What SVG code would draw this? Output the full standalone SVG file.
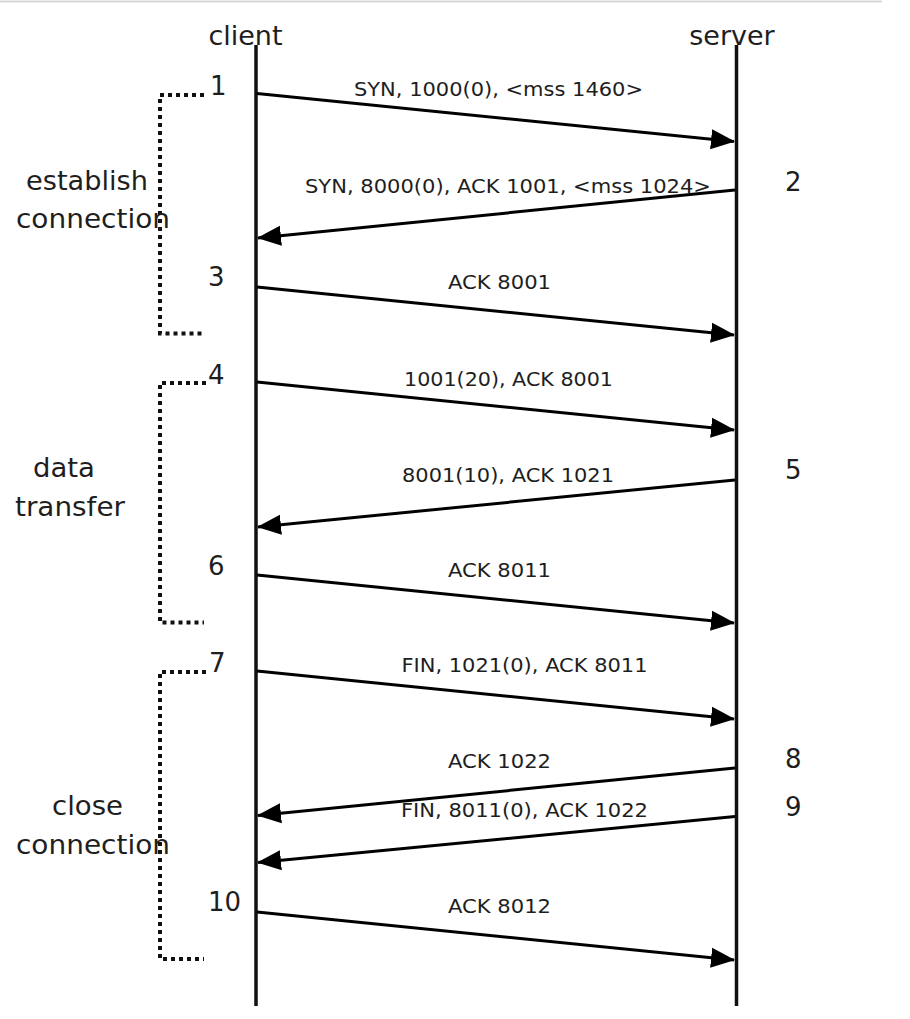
<svg xmlns="http://www.w3.org/2000/svg" width="910" height="1019" viewBox="0 0 910 1019">
<style>
text{font-family:"DejaVu Sans","Liberation Sans",sans-serif;fill:#1e1e1e}
.actor{font-size:27px;text-anchor:middle}
.grp{font-size:27px;text-anchor:middle}
.num{font-size:26px}
.lbl{font-size:20px;text-anchor:middle}
.life{stroke:#111;stroke-width:3.5;fill:none}
.msg{stroke:#000;stroke-width:3;fill:none;marker-end:url(#ah)}
.br{stroke:#111;stroke-width:4;stroke-dasharray:4 4;fill:none}
</style>
<defs>
<marker id="ah" markerUnits="userSpaceOnUse" markerWidth="24" markerHeight="22" refX="23" refY="10" orient="auto" viewBox="0 0 24 20">
<path d="M0,0 L24,10 L0,20 z" fill="#000"/>
</marker>
</defs>
<rect width="910" height="1019" fill="#fff"/>
<line x1="0" y1="1.5" x2="882" y2="1.5" stroke="#d6d6d6" stroke-width="2"/>

<g id="client">
<text class="actor" x="245.5" y="45">client</text>
<line class="life" x1="256" y1="45" x2="256" y2="1006"/>
</g>
<g id="server">
<text class="actor" x="732" y="45">server</text>
<line class="life" x1="736.5" y1="45" x2="736.5" y2="1006"/>
</g>

<g id="phase-establish">
<path class="br" d="M204,95 H160 V333.5 H204"/>
<text class="grp" x="87" y="190" textLength="122" lengthAdjust="spacingAndGlyphs">establish</text>
<text class="grp" x="93" y="228" textLength="154" lengthAdjust="spacingAndGlyphs">connection</text>
</g>
<g id="phase-data">
<path class="br" d="M206,383 H160 V622.5 H204"/>
<text class="grp" x="64" y="477" textLength="62" lengthAdjust="spacingAndGlyphs">data</text>
<text class="grp" x="70" y="516" textLength="110" lengthAdjust="spacingAndGlyphs">transfer</text>
</g>
<g id="phase-close">
<path class="br" d="M206,672 H160 V959 H204"/>
<text class="grp" x="87.5" y="815" textLength="71" lengthAdjust="spacingAndGlyphs">close</text>
<text class="grp" x="93" y="854" textLength="154" lengthAdjust="spacingAndGlyphs">connection</text>
</g>

<g id="numbers">
<text class="num" x="210" y="95">1</text>
<text class="num" x="785" y="191">2</text>
<text class="num" x="208" y="286">3</text>
<text class="num" x="208" y="384">4</text>
<text class="num" x="785" y="479">5</text>
<text class="num" x="208" y="575">6</text>
<text class="num" x="209" y="672">7</text>
<text class="num" x="785" y="768">8</text>
<text class="num" x="785" y="816">9</text>
<text class="num" x="208" y="911">10</text>
</g>

<g id="connectors">
<line class="msg" x1="257" y1="93.5" x2="734" y2="141.5"/>
<line class="msg" x1="735" y1="190" x2="258" y2="238"/>
<line class="msg" x1="257" y1="287" x2="734" y2="335"/>
<line class="msg" x1="257" y1="382" x2="734" y2="430"/>
<line class="msg" x1="735" y1="480" x2="258" y2="527"/>
<line class="msg" x1="257" y1="575" x2="734" y2="623"/>
<line class="msg" x1="257" y1="671" x2="734" y2="719"/>
<line class="msg" x1="735" y1="768" x2="258" y2="815.5"/>
<line class="msg" x1="735" y1="816.5" x2="258" y2="862.5"/>
<line class="msg" x1="257" y1="912" x2="734" y2="960"/>
</g>

<g id="labels">
<text class="lbl" x="498.5" y="96" textLength="289" lengthAdjust="spacingAndGlyphs">SYN, 1000(0), &lt;mss 1460&gt;</text>
<text class="lbl" x="508" y="193" textLength="406" lengthAdjust="spacingAndGlyphs">SYN, 8000(0), ACK 1001, &lt;mss 1024&gt;</text>
<text class="lbl" x="499.5" y="289" textLength="103" lengthAdjust="spacingAndGlyphs">ACK 8001</text>
<text class="lbl" x="508.5" y="386" textLength="209" lengthAdjust="spacingAndGlyphs">1001(20), ACK 8001</text>
<text class="lbl" x="508" y="482" textLength="212" lengthAdjust="spacingAndGlyphs">8001(10), ACK 1021</text>
<text class="lbl" x="499.5" y="577" textLength="103" lengthAdjust="spacingAndGlyphs">ACK 8011</text>
<text class="lbl" x="524.5" y="672" textLength="246" lengthAdjust="spacingAndGlyphs">FIN, 1021(0), ACK 8011</text>
<text class="lbl" x="499.5" y="768" textLength="103" lengthAdjust="spacingAndGlyphs">ACK 1022</text>
<text class="lbl" x="524.5" y="817" textLength="247" lengthAdjust="spacingAndGlyphs">FIN, 8011(0), ACK 1022</text>
<text class="lbl" x="499.5" y="913" textLength="103" lengthAdjust="spacingAndGlyphs">ACK 8012</text>
</g>
</svg>
